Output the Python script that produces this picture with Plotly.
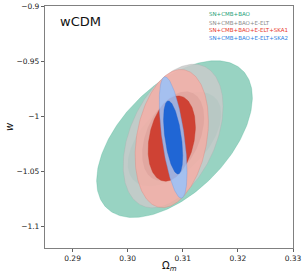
import numpy as np
import plotly.graph_objects as go

# ---- data ----
labels = ["SN+CMB+BAO", "SN+CMB+BAO+E-ELT", "SN+CMB+BAO+E-ELT+SKA1", "SN+CMB+BAO+E-ELT+SKA2"]
label_colors = ["#1b9e77", "#8a8a8a", "#e8352a", "#2a7de1"]

# contour centres (Omega_m, w)
om_center = [0.3085, 0.30825, 0.30800, 0.30825]
w_center = [-1.0210, -1.0182, -1.0205, -1.0195]
# 95% (2 sigma) half-extents and correlation
om_half_95 = [0.01413, 0.00906, 0.00665, 0.00252]
w_half_95 = [0.0713, 0.0653, 0.0628, 0.0552]
rho_95 = [0.53, 0.41, 0.25, -0.58]
# 68% (1 sigma) half-extents and correlation
om_half_68 = [0.00848, 0.00562, 0.00429, 0.00174]
w_half_68 = [0.0428, 0.0405, 0.0388, 0.0333]
rho_68 = [0.53, 0.41, 0.27, -0.50]

fill_95 = ["rgba(27,158,119,0.45)", "rgba(200,202,202,0.85)",
           "rgba(255,168,159,0.70)", "rgba(152,194,250,0.85)"]
fill_68 = ["rgba(27,158,119,0.45)", "rgba(110,110,110,0.40)",
           "rgba(205,55,40,0.90)", "rgba(25,98,212,0.95)"]
edge_95 = ["rgba(27,158,119,0.35)", "rgba(170,170,170,0.5)",
           "rgba(220,120,110,0.5)", "rgba(110,150,220,0.6)"]
edge_68 = ["rgba(27,158,119,0.0)", "rgba(110,110,110,0.0)",
           "rgba(190,50,35,0.6)", "rgba(25,90,200,0.6)"]

x_ticks = [0.29, 0.30, 0.31, 0.32, 0.33]
x_ticktext = ["0.29", "0.30", "0.31", "0.32", "0.33"]
y_ticks = [-0.9, -0.95, -1.0, -1.05, -1.1]
y_ticktext = ["\u22120.9", "\u22120.95", "\u22121", "\u22121.05", "\u22121.1"]


def ellipse(cx, cy, hx, hy, rho, n=240):
    t = np.linspace(0, 2 * np.pi, n)
    x = cx + hx * np.cos(t)
    y = cy + hy * (rho * np.cos(t) + np.sqrt(1 - rho ** 2) * np.sin(t))
    return x, y


fig = go.Figure()
for i in range(len(labels)):
    x2, y2 = ellipse(om_center[i], w_center[i], om_half_95[i], w_half_95[i], rho_95[i])
    fig.add_trace(go.Scatter(x=x2, y=y2, mode="lines", fill="toself",
                             fillcolor=fill_95[i], line=dict(color=edge_95[i], width=0.6),
                             hoverinfo="skip", showlegend=False))
    x1, y1 = ellipse(om_center[i], w_center[i], om_half_68[i], w_half_68[i], rho_68[i])
    fig.add_trace(go.Scatter(x=x1, y=y1, mode="lines", fill="toself",
                             fillcolor=fill_68[i], line=dict(color=edge_68[i], width=0.6),
                             hoverinfo="skip", showlegend=False))

font_family = "DejaVu Sans"
axis_common = dict(showgrid=False, zeroline=False, showline=True, linecolor="#808080",
                   linewidth=1.2, mirror=True, ticks="outside", ticklen=3, tickwidth=1,
                   tickcolor="#606060", automargin=False,
                   tickfont=dict(family=font_family, size=7.5, color="#222"))
fig.update_xaxes(range=[0.285, 0.33], tickvals=x_ticks, ticktext=x_ticktext, **axis_common)
fig.update_yaxes(range=[-1.12, -0.9], tickvals=y_ticks, ticktext=y_ticktext, **axis_common)

annotations = [
    dict(text="wCDM", x=0.052, y=0.938, xref="paper", yref="paper", xanchor="left",
         yanchor="middle", showarrow=False, font=dict(family=font_family, size=13, color="#111")),
    dict(text="\u03a9<sub><i>m</i></sub>", x=0.5, xref="paper", y=-0.04, yref="paper",
         xanchor="center", yanchor="top", showarrow=False,
         font=dict(family=font_family, size=10, color="#111")),
    dict(text="<i>w</i>", x=-0.145, xref="paper", y=0.5, yref="paper", textangle=-90,
         xanchor="center", yanchor="middle", showarrow=False,
         font=dict(family=font_family, size=10, color="#111")),
]
leg_y = [14.3, 22.5, 30.1, 37.8]
for i, lab in enumerate(labels):
    annotations.append(dict(text=lab, x=(206.5 - 45) / 248, y=(248 - leg_y[i]) / 242,
                            xref="paper", yref="paper", xanchor="left", yanchor="middle",
                            showarrow=False,
                            font=dict(family=font_family, size=5.5, color=label_colors[i])))

fig.update_layout(width=306, height=274, margin=dict(l=45, r=13, t=6, b=26),
                  paper_bgcolor="white", plot_bgcolor="white", annotations=annotations,
                  font=dict(family=font_family))
fig.write_html("out.html", config={"displayModeBar": False},
               post_script="document.body.style.margin='0';document.body.style.overflow='hidden';")
